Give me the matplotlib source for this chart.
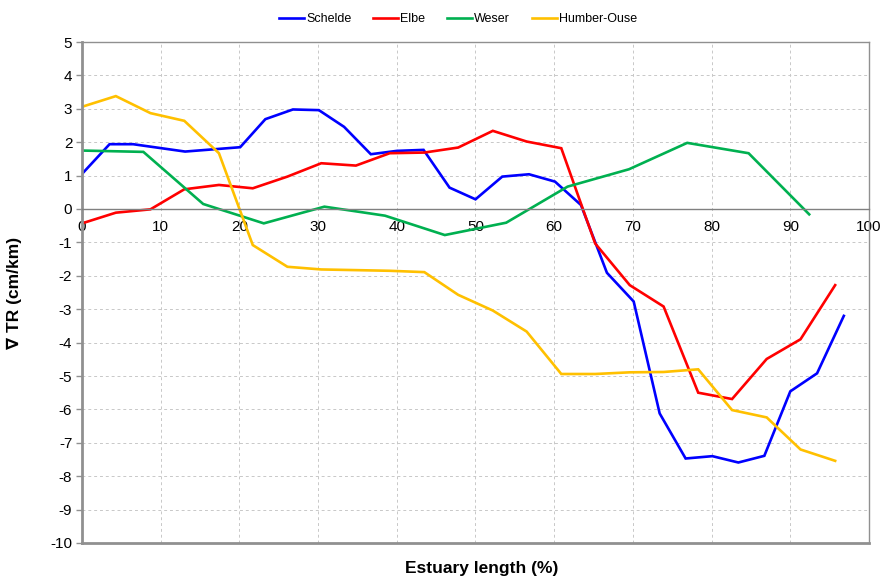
import matplotlib
matplotlib.use("Agg")
import matplotlib.pyplot as plt

plt.rcParams['font.family'] = ['Liberation Sans', 'DejaVu Sans']
plt.rcParams['axes.unicode_minus'] = False

schelde_x = [0, 3.5, 6.5, 13.1, 20.1, 23.3, 26.8, 30.1, 33.3, 36.7, 40.0, 43.4, 46.7, 50.0,
             53.4, 56.8, 60.1, 63.4, 66.7, 70.1, 73.4, 76.7, 80.1, 83.4, 86.7, 90.0, 93.4, 96.8]
schelde_y = [1.05, 1.94, 1.94, 1.72, 1.85, 2.69, 2.98, 2.96, 2.46, 1.64, 1.74, 1.77, 0.64, 0.29,
             0.97, 1.04, 0.82, 0.12, -1.91, -2.77, -6.12, -7.47, -7.40, -7.59, -7.39, -5.46, -4.92, -3.20]

elbe_x = [0, 4.3, 8.7, 13.0, 17.4, 21.7, 26.1, 30.4, 34.8, 39.1, 43.5, 47.8, 52.2, 56.5,
          60.9, 65.2, 69.6, 73.9, 78.3, 82.6, 87.0, 91.3, 95.7]
elbe_y = [-0.43, -0.11, -0.01, 0.59, 0.72, 0.62, 0.97, 1.37, 1.30, 1.67, 1.69, 1.84, 2.34, 2.02,
          1.82, -1.03, -2.28, -2.92, -5.50, -5.69, -4.49, -3.90, -2.28]

weser_x = [0, 7.8, 15.4, 23.1, 30.8, 38.5, 46.1, 53.9, 61.7, 69.5, 76.9, 84.7, 92.4]
weser_y = [1.75, 1.71, 0.15, -0.43, 0.07, -0.20, -0.78, -0.41, 0.67, 1.19, 1.98, 1.67, -0.16]

humber_x = [0, 4.3, 8.7, 13.0, 17.4, 21.7, 26.1, 30.4, 34.8, 39.1, 43.5, 47.8, 52.2, 56.5,
            60.9, 65.2, 69.6, 73.9, 78.3, 82.6, 87.0, 91.3, 95.7]
humber_y = [3.06, 3.38, 2.87, 2.64, 1.67, -1.08, -1.73, -1.81, -1.83, -1.85, -1.89, -2.57, -3.04, -3.67,
            -4.94, -4.94, -4.89, -4.88, -4.80, -6.02, -6.24, -7.20, -7.54]

series = [
    ("Schelde", schelde_x, schelde_y, "#0000FF"),
    ("Elbe", elbe_x, elbe_y, "#FF0000"),
    ("Weser", weser_x, weser_y, "#00B050"),
    ("Humber-Ouse", humber_x, humber_y, "#FFC000"),
]

x_ticks = [0, 10, 20, 30, 40, 50, 60, 70, 80, 90, 100]
y_ticks = list(range(-10, 6))

fig = plt.figure(figsize=(8.82, 5.78), dpi=100)
ax = fig.add_axes([82/882, 1-543/578, (869-82)/882, (543-42)/578])

for name, xs, ys, c in series:
    ax.plot(xs, ys, color=c, lw=1.9, label=name, solid_joinstyle='miter')

ax.set_xlim(0, 100)
ax.set_ylim(-10, 5)
ax.set_xticks(x_ticks)
ax.set_yticks(y_ticks)
ax.grid(True, color='#c8c8c8', linestyle=(0, (3, 3)), linewidth=0.7)
ax.set_axisbelow(True)

# x axis crosses at y = 0
ax.spines['bottom'].set_position(('data', 0))
ax.spines['bottom'].set_color('#808080')
ax.spines['bottom'].set_linewidth(1.0)
ax.axhline(-10, color='#909090', lw=2.0, clip_on=False, zorder=5)
ax.spines['left'].set_color('#909090')
ax.spines['left'].set_linewidth(2.0)
for s in ('top', 'right'):
    ax.spines[s].set_color('#909090')
    ax.spines[s].set_linewidth(1.0)

ax.tick_params(axis='x', length=0, labelsize=11, pad=8, colors='#000000')
ax.tick_params(axis='y', length=4, width=1, color='#909090', labelsize=11, pad=3)

ax.set_xlabel("Estuary length (%)", fontsize=12.5, fontweight='bold')
ax.set_ylabel("∇ TR (cm/km)", fontsize=12.5, fontweight='bold')
ax.yaxis.set_label_coords(-0.076, 0.5)
ax.xaxis.set_label_coords(0.508, -(569-543)/(543-42))
ax.xaxis.label.set_va('center')

leg = ax.legend(loc='center', bbox_to_anchor=(0.478, 1 + (42-19)/(543-42)), ncol=4, frameon=False,
                fontsize=9, handlelength=2.0, handletextpad=0.15, columnspacing=1.75,
                borderpad=0)

fig.savefig("out.png", dpi=100)
